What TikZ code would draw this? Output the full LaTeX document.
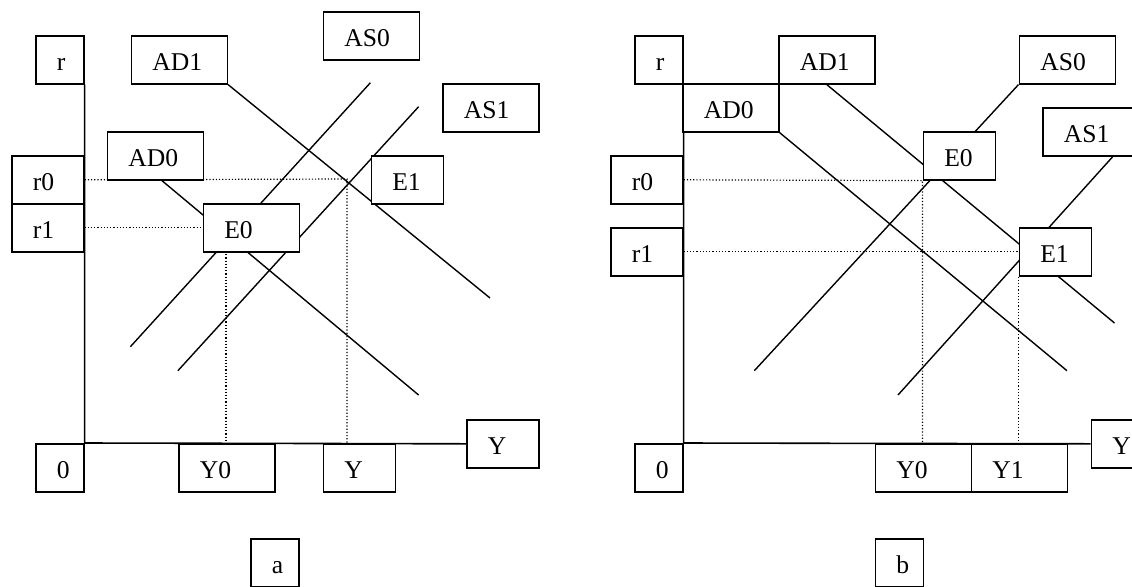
\documentclass[tikz,border=0pt]{standalone}
\usepackage{fontspec}
\setmainfont{Liberation Serif}
\usetikzlibrary{backgrounds}

\begin{document}
\begin{tikzpicture}[x=0.5pt, y=-0.5pt, font=\fontsize{12.8}{15}\selectfont,
    box/.style={draw, fill=white, line width=0.8pt, anchor=north west,
        inner xsep=10.5pt, inner ysep=0pt, text height=17.5pt, text depth=6.5pt, align=left},
    one/.style={box, text width=3pt},
    two/.style={box, text width=15pt},
    three/.style={box, text width=27pt},
    curve/.style={line width=0.7pt},
    guide/.style={line width=0.6pt, densely dotted},
    axis/.style={line width=0.8pt}]
    \useasboundingbox (0,0) rectangle (1132,586);

    % panel a
    \node [one] (ra) at (35,35) {r};
    \node [three] (ad1a) at (130.5,35) {AD1};
    \node [three] (as0a) at (322.5,11) {AS0};
    \node [three] (as1a) at (442,83) {AS1};
    \node [three] (ad0a) at (106.5,131) {AD0};
    \node [two] (r0a) at (11,155) {r0};
    \node [two] (r1a) at (11,203) {r1};
    \node [two] (e1a) at (370.5,155) {E1};
    \node [three] (e0a) at (202.5,203) {E0};
    \node [one] (oa) at (35,443) {0};
    \node [three] (y0a) at (178,443) {Y0};
    \node [two] (ya) at (322.5,443) {Y};
    \node [two] (yaxa) at (466,419) {Y};
    \node [one] (capa) at (250,538) {a};
    \coordinate (ad0a0) at (160,179);
    \coordinate (ad0a1) at (418.6,395);
    \coordinate (ad1a1) at (490,298);
    \coordinate (as0a0) at (370.4,82.7);
    \coordinate (as0a1) at (130.4,346.7);
    \coordinate (as1a0) at (418.6,106.7);
    \coordinate (as1a1) at (177.9,370.7);
    \coordinate (e1pa) at (347,179);
    \coordinate (e0pa) at (226,251);

    % panel b
    \node [one] (rb) at (634,35) {r};
    \node [three] (ad1b) at (778,35) {AD1};
    \node [three] (as0b) at (1018.5,35) {AS0};
    \node [three] (ad0b) at (682,83) {AD0};
    \node [three] (as1b) at (1042,107) {AS1};
    \node [two] (e0b) at (922.5,131) {E0};
    \node [two] (r0b) at (610,155) {r0};
    \node [two] (r1b) at (610,227) {r1};
    \node [two] (e1b) at (1018.5,227) {E1};
    \node [one] (ob) at (634,443) {0};
    \node [three] (y0b) at (874.5,443) {Y0};
    \node [three] (y1b) at (970.5,443) {Y1};
    \node [two] (yaxb) at (1090.5,419) {Y};
    \node [one] (capb) at (874.5,538) {b};
    \coordinate (ad1b1) at (1114.5,323);
    \coordinate (ad0b1) at (1067,370.7);
    \coordinate (as0b1) at (754.3,370.7);
    \coordinate (as1b0) at (1114.5,154.7);
    \coordinate (as1b1) at (898,395);

    \begin{pgfonlayer}{background}
        \draw [curve] (ad1a.south east) -- (ad1a1);
        \draw [curve] (ad0a0) -- (ad0a1);
        \draw [curve] (as0a0) -- (as0a1);
        \draw [curve] (as1a0) -- (as1a1);
        \draw [guide] (r0a.east) -- (e1pa) -- (e1pa |- oa.north east);
        \draw [guide] (r1a.east) -- (e0a.west);
        \draw [guide] (e0pa) -- (e0pa |- oa.north east);
        \draw [axis] (ra.south east) -- (oa.north east) -- (yaxa.west);

        \draw [curve] (ad1b.south) -- (ad1b1);
        \draw [curve] (ad0b.south east) -- (ad0b1);
        \draw [curve] (as0b.south west) -- (as0b1);
        \draw [curve] (as1b0) -- (as1b1);
        \draw [guide] (r0b.east) -- (e0b.south west) -- (e0b.south west |- ob.north east);
        \draw [guide] (r1b.east) -- (e1b.west);
        \draw [guide] (e1b.south west) -- (e1b.south west |- ob.north east);
        \draw [axis] (rb.south east) -- (ob.north east) -- (yaxb.west);
    \end{pgfonlayer}
\end{tikzpicture}
\end{document}
